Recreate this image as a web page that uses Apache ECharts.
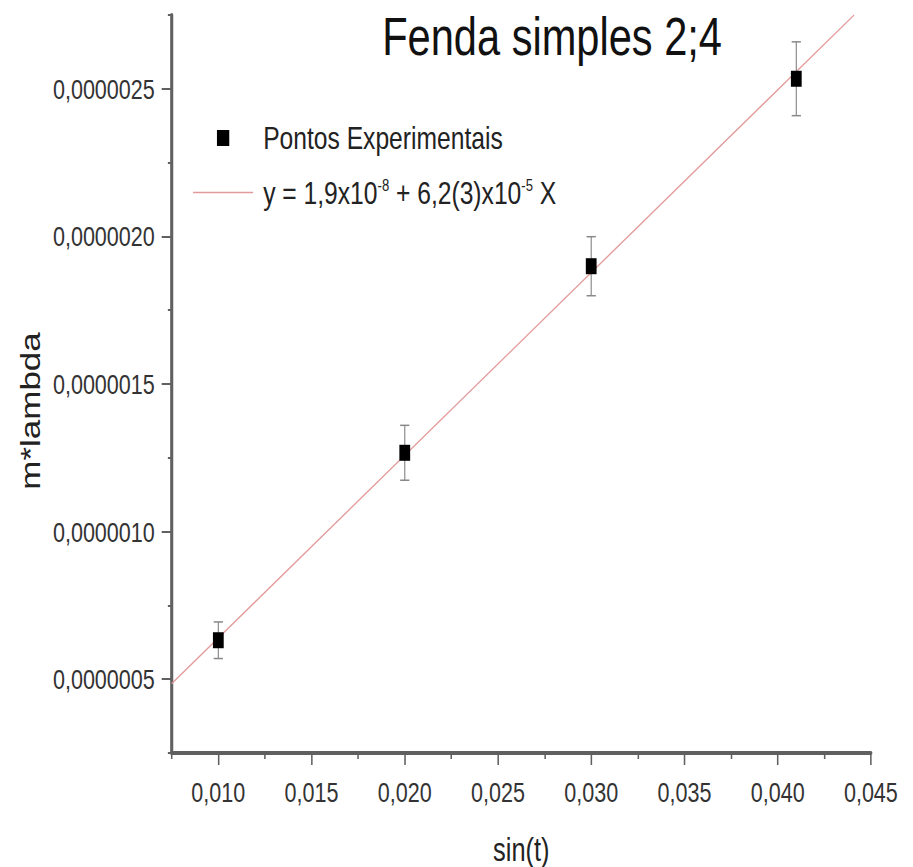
<!DOCTYPE html>
<html>
<head>
<meta charset="utf-8">
<script src="https://cdn.jsdelivr.net/npm/echarts@6/dist/echarts.min.js"></script>
<style>
html,body{margin:0;padding:0;overflow:hidden;background:#fff}
/* the reference is squeezed sideways, so draw wider and scale back */
#chart{width:1186px;height:867px;transform:scaleX(0.77);transform-origin:0 0}
</style>
</head>
<body>
<div id="chart"></div>
<script>
const sinT=[0.010,0.020,0.030,0.041];
const mLambda=[6.32e-7,1.267e-6,1.899e-6,2.534e-6];
const mLambdaErr=[0.062e-6,0.093e-6,0.10e-6,0.125e-6];

// fitted line, read where it enters and leaves the plot
const fitX=[0.0075,0.0441];
const fitY=[4.85e-7,2.75e-6];

const xMajor=[0.010,0.015,0.020,0.025,0.030,0.035,0.040,0.045];
const xMinor=[0.0075,0.0125,0.0175,0.0225,0.0275,0.0325,0.0375,0.0425];
const yMajor=[5e-7,1e-6,1.5e-6,2e-6,2.5e-6];
const yMinor=[2.5e-7,7.5e-7,1.25e-6,1.75e-6,2.25e-6,2.75e-6];

const ptsName="Pontos Experimentais";
const fitName="y = 1,9x10-8 + 6,2(3)x10-5 X";

const font="Liberation Sans, Arial, sans-serif";
const axisCol="#606060";
const fitCol="#e39a9a";
const xr=[0.0075,0.045], yr=[2.5e-7,2.75e-6];

// square in the middle of the 78x16 legend slot
const squareIcon="path://M0,0L0.01,0M31,0L47,0L47,16L31,16ZM77.99,16L78,16";

const baseX={type:"value",min:xr[0],max:xr[1],position:"bottom",splitLine:{show:false}};
const baseY={type:"value",min:yr[0],max:yr[1],position:"left",splitLine:{show:false}};

const chart=echarts.init(document.getElementById("chart"),null,{renderer:"svg"});
chart.setOption({
  animation:false,
  backgroundColor:"#fff",
  title:{
    text:"Fenda simples 2;4",left:712,top:4,textAlign:"center",
    textStyle:{fontFamily:font,fontSize:54,fontWeight:"normal",color:"#111"}
  },
  grid:{left:223,right:55,top:15,bottom:114,outerBoundsMode:"none"},
  legend:{
    orient:"vertical",left:245,top:117,itemWidth:78,itemHeight:16,itemGap:22,
    data:[
      {name:ptsName,icon:squareIcon},
      {name:fitName,itemStyle:{opacity:0},lineStyle:{color:fitCol,width:1.5,opacity:1}}
    ],
    formatter:n=>n===fitName?"{t|y = 1,9x10}{s|-8}{t| + 6,2(3)x10}{s|-5}{t| X}":n,
    textStyle:{fontFamily:font,fontSize:32,color:"#222",padding:[0,0,0,8],
      rich:{t:{fontFamily:font,fontSize:32,color:"#222"},
            s:{fontFamily:font,fontSize:17,color:"#222",padding:[0,0,16,0]}}}
  },
  xAxis:[
    Object.assign({},baseX,{
      name:"sin(t)",nameLocation:"middle",nameGap:80,
      nameTextStyle:{fontFamily:font,fontSize:33,color:"#222"},
      axisLine:{lineStyle:{color:axisCol,width:4}},
      axisTick:{inside:false,length:12,customValues:xMajor,lineStyle:{color:axisCol,width:2}},
      axisLabel:{customValues:xMajor,margin:25,fontFamily:font,fontSize:28,color:"#333",
        formatter:v=>v.toFixed(3).replace(".",",")}
    }),
    Object.assign({},baseX,{
      axisLine:{show:false},axisLabel:{show:false},
      axisTick:{length:6,customValues:xMinor,lineStyle:{color:axisCol,width:2}}
    })
  ],
  yAxis:[
    Object.assign({},baseY,{
      name:"m*lambda",nameLocation:"middle",nameGap:160,
      nameTextStyle:{fontFamily:font,fontSize:35,color:"#222",padding:[0,54,0,0]},
      axisLine:{lineStyle:{color:axisCol,width:4}},
      axisTick:{length:13,customValues:yMajor,lineStyle:{color:axisCol,width:2}},
      axisLabel:{customValues:yMajor,margin:22,fontFamily:font,fontSize:28,color:"#333",
        formatter:v=>v.toFixed(7).replace(".",",")}
    }),
    Object.assign({},baseY,{
      axisLine:{show:false},axisLabel:{show:false},
      axisTick:{length:5,customValues:yMinor,lineStyle:{color:axisCol,width:2}}
    })
  ],
  series:[
    {
      name:fitName,type:"line",symbol:"none",z:1,
      lineStyle:{color:fitCol,width:1.5},itemStyle:{color:fitCol},
      data:fitX.map((x,i)=>[x,fitY[i]])
    },
    {
      type:"custom",z:2,
      data:sinT.map((x,i)=>[x,mLambda[i]-mLambdaErr[i],mLambda[i]+mLambdaErr[i]]),
      encode:{x:0,y:[1,2]},
      renderItem:(p,api)=>{
        const lo=api.coord([api.value(0),api.value(1)]);
        const hi=api.coord([api.value(0),api.value(2)]);
        const w=6, st={stroke:"#888",lineWidth:1.5};
        return {type:"group",children:[
          {type:"line",shape:{x1:lo[0],y1:lo[1],x2:hi[0],y2:hi[1]},style:st},
          {type:"line",shape:{x1:lo[0]-w,y1:lo[1],x2:lo[0]+w,y2:lo[1]},style:st},
          {type:"line",shape:{x1:hi[0]-w,y1:hi[1],x2:hi[0]+w,y2:hi[1]},style:st}
        ]};
      }
    },
    {
      name:ptsName,type:"scatter",symbol:"rect",symbolSize:[14,16],z:3,
      itemStyle:{color:"#000",opacity:1},
      data:sinT.map((x,i)=>[x,mLambda[i]])
    }
  ]
});
</script>
</body>
</html>
